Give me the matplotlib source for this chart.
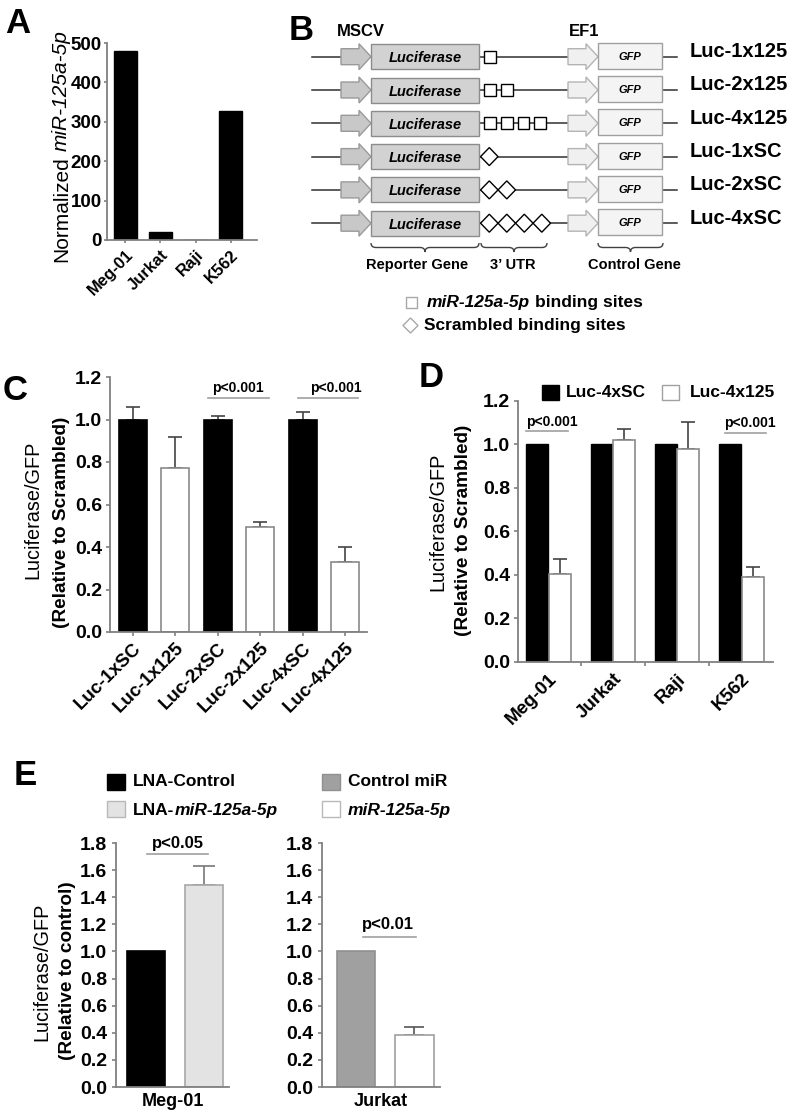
import numpy as np
import matplotlib
matplotlib.use('Agg')
import matplotlib.pyplot as plt
from matplotlib.patches import Rectangle, Polygon, PathPatch
from matplotlib.path import Path

plt.rcParams['font.family'] = ['Liberation Sans', 'DejaVu Sans']
plt.rcParams['font.weight'] = 'bold'

# ---------------- data ----------------
# Panel A
cell_lines_a = ['Meg-01', 'Jurkat', 'Raji', 'K562']
mir_levels_a = [480, 21, 1, 327]

# Panel B (constructs)
constructs_b = ['Luc-1x125', 'Luc-2x125', 'Luc-4x125', 'Luc-1xSC', 'Luc-2xSC', 'Luc-4xSC']
site_counts_b = [1, 2, 4, 1, 2, 4]
site_types_b = ['miR', 'miR', 'miR', 'SC', 'SC', 'SC']

# Panel C
constructs_c = ['Luc-1xSC', 'Luc-1x125', 'Luc-2xSC', 'Luc-2x125', 'Luc-4xSC', 'Luc-4x125']
ratio_c = [1.0, 0.77, 1.0, 0.493, 1.0, 0.331]
err_c = [0.06, 0.146, 0.018, 0.023, 0.037, 0.069]

# Panel D
cell_lines_d = ['Meg-01', 'Jurkat', 'Raji', 'K562']
sc_d = [1.0, 1.0, 1.0, 1.0]
mir_d = [0.403, 1.018, 0.98, 0.392]
mir_err_d = [0.07, 0.051, 0.12, 0.046]

# Panel E
e_left_series = ['LNA-Control', 'LNA-miR-125a-5p']
e_left_vals = [1.0, 1.49]
e_left_err = [0.0, 0.144]
e_right_series = ['Control miR', 'miR-125a-5p']
e_right_vals = [1.0, 0.38]
e_right_err = [0.0, 0.063]

# ---------------- figure ----------------
W, H = 792, 1117
fig = plt.figure(figsize=(W / 100, H / 100), dpi=100)
fig.patch.set_facecolor('white')

SP = '#808080'
TICK_FS = 14


def px_axes(x0, y0, x1, y1):
    return fig.add_axes([x0 / W, 1 - y1 / H, (x1 - x0) / W, (y1 - y0) / H])


def style(ax, length=3, pad=2.5):
    for s in ['top', 'right']:
        ax.spines[s].set_visible(False)
    for s in ['left', 'bottom']:
        ax.spines[s].set_color(SP)
        ax.spines[s].set_linewidth(1.3)
    ax.tick_params(axis='both', labelcolor='black', labelsize=TICK_FS,
                   length=length, width=1.2, color=SP, pad=pad)
    ax.set_facecolor('none')


def upper_err(ax, x, y, e, color='#444444', capsize=5):
    ax.errorbar(x, y, yerr=[np.zeros(len(e)), e], fmt='none', ecolor=color,
                elinewidth=1.2, capsize=capsize, capthick=1.2, zorder=1)


# ---------------- Panel A ----------------
axA = px_axes(107, 43, 257, 240)
xa = np.arange(len(cell_lines_a))
axA.bar(xa, mir_levels_a, width=0.65, color='black', edgecolor='black', zorder=2)
axA.set_ylim(0, 500)
axA.set_yticks(range(0, 501, 100))
axA.set_xlim(-0.52, 3.75)
axA.set_xticks(xa)
axA.set_xticklabels(cell_lines_a, rotation=45, ha='right', rotation_mode='anchor', fontsize=12)
style(axA, length=2.5, pad=1.2)
axA.tick_params(axis='y', labelsize=13.5)
axA.tick_params(axis='x', labelsize=12, pad=2.5)

# ---------------- Panel C ----------------
axC = px_axes(110, 377, 367, 632)
xc = np.arange(len(constructs_c))
fill_c = ['black' if 'SC' in c else 'white' for c in constructs_c]
edge_c = ['black' if 'SC' in c else '#8a8a8a' for c in constructs_c]
axC.bar(xc, ratio_c, width=0.66, color=fill_c, edgecolor=edge_c, linewidth=1.2, zorder=2)
upper_err(axC, xc, ratio_c, err_c, capsize=5)
axC.set_ylim(0, 1.2)
axC.set_yticks(np.arange(0, 1.21, 0.2))
axC.set_yticklabels([f'{v:.1f}' for v in np.arange(0, 1.21, 0.2)])
axC.set_xlim(-0.54, 5.52)
axC.set_xticks(xc)
axC.set_xticklabels(constructs_c, rotation=45, ha='right', rotation_mode='anchor')
style(axC)
axC.tick_params(axis='x', labelsize=13.5)
for (a, b, tx) in [(1.77, 3.2, 2.48), (3.89, 5.31, 4.79)]:
    axC.plot([a, b], [1.10, 1.10], color='#a0a0a0', lw=1.2, clip_on=False)
    axC.text(tx, 1.113, 'p<0.001', ha='center', va='bottom', fontsize=10, fontweight='bold')

# ---------------- Panel D ----------------
axD = px_axes(518, 400.7, 773, 662)
xd = np.arange(len(cell_lines_d))
axD.bar(xd - 0.175, sc_d, width=0.34, color='black', edgecolor='black', zorder=2)
axD.bar(xd + 0.175, mir_d, width=0.34, color='white', edgecolor='#8a8a8a', linewidth=1.2, zorder=2)
upper_err(axD, xd + 0.175, mir_d, mir_err_d, capsize=5)
axD.set_ylim(0, 1.2)
axD.set_yticks(np.arange(0, 1.21, 0.2))
axD.set_yticklabels([f'{v:.1f}' for v in np.arange(0, 1.21, 0.2)])
axD.set_xlim(-0.474, 3.49)
axD.set_xticks(xd[:-1] + 0.5)
axD.set_xticklabels([])
axD.set_xticks(xd, minor=True)
axD.set_xticklabels(cell_lines_d, minor=True, rotation=45, ha='right', rotation_mode='anchor')
style(axD)
axD.tick_params(axis='x', which='minor', length=0, labelsize=13.5, pad=6)
axD.plot([-0.35, 0.30], [1.061, 1.061], color='#a0a0a0', lw=1.2, clip_on=False)
axD.text(0.047, 1.072, 'p<0.001', ha='center', va='bottom', fontsize=10, fontweight='bold')
axD.plot([2.74, 3.38], [1.053, 1.053], color='#a0a0a0', lw=1.2, clip_on=False)
axD.text(3.13, 1.064, 'p<0.001', ha='center', va='bottom', fontsize=10, fontweight='bold')

# ---------------- Panel E ----------------
axE1 = px_axes(116, 843, 229, 1087)
xe = np.arange(2)
axE1.bar(xe, e_left_vals, width=0.66, color=['black', '#e3e3e3'],
         edgecolor=['black', '#a8a8a8'], linewidth=1.2, zorder=2)
upper_err(axE1, xe[1:], e_left_vals[1:], e_left_err[1:], color='#777777', capsize=8)
axE1.set_ylim(0, 1.8)
axE1.set_xlim(-0.52, 1.43)
axE1.set_yticks(np.arange(0, 1.81, 0.2))
axE1.set_yticklabels([f'{v:.1f}' for v in np.arange(0, 1.81, 0.2)])
axE1.set_xticks([])
axE1.set_xlabel('Meg-01', fontsize=13, fontweight='bold', labelpad=4)
style(axE1, length=3, pad=3.5)
axE1.plot([0.02, 1.07], [1.72, 1.72], color='#a0a0a0', lw=1.2, clip_on=False)
axE1.text(0.55, 1.743, 'p<0.05', ha='center', va='bottom', fontsize=12, fontweight='bold')

axE2 = px_axes(322, 843, 440, 1087)
axE2.bar(xe, e_right_vals, width=0.66, color=['#a0a0a0', 'white'],
         edgecolor=['#909090', '#a0a0a0'], linewidth=1.2, zorder=2)
upper_err(axE2, xe[1:], e_right_vals[1:], e_right_err[1:], color='#555555', capsize=7)
axE2.set_ylim(0, 1.8)
axE2.set_xlim(-0.59, 1.44)
axE2.set_yticks(np.arange(0, 1.81, 0.2))
axE2.set_yticklabels([f'{v:.1f}' for v in np.arange(0, 1.81, 0.2)])
axE2.set_xticks([])
axE2.set_xlabel('Jurkat', fontsize=13, fontweight='bold', labelpad=4)
style(axE2, length=3, pad=3.5)
axE2.plot([0.12, 1.03], [1.11, 1.11], color='#a0a0a0', lw=1.2, clip_on=False)
axE2.text(0.55, 1.143, 'p<0.01', ha='center', va='bottom', fontsize=12, fontweight='bold')

# ---------------- overlay (pixel coordinates) ----------------
ov = fig.add_axes([0, 0, 1, 1], zorder=10)
ov.set_xlim(0, W)
ov.set_ylim(H, 0)
ov.axis('off')
ov.patch.set_visible(False)

# panel letters
for lab, x, y in [('A', 5, 33), ('B', 289, 40), ('C', 3, 400), ('D', 419, 387), ('E', 14, 785)]:
    ov.text(x, y, lab, fontsize=25, fontweight='bold', ha='left', va='baseline')


def vrich(x, y, parts, fs, weight='normal', gaps=None):
    """Vertical (90 deg) text with mixed styles; x = baseline, y = start (bottom)."""
    prev = None
    for i, (s, st) in enumerate(parts):
        kw = dict(rotation=90, rotation_mode='anchor', ha='left', va='baseline',
                  fontsize=fs, fontweight=weight, fontstyle=st, annotation_clip=False)
        g = 0 if gaps is None else gaps[i]
        if prev is None:
            prev = ov.annotate(s, xy=(x, y), xycoords='data', **kw)
        else:
            prev = ov.annotate(s, xy=(x, 1), xycoords=(ov.transData, prev),
                               xytext=(0, g), textcoords='offset points', **kw)
    return prev


def hrich(x, y, parts, fs, gaps=None):
    prev = None
    for i, (s, st) in enumerate(parts):
        kw = dict(ha='left', va='baseline', fontsize=fs, fontweight='bold',
                  fontstyle=st, annotation_clip=False)
        g = 0 if gaps is None else gaps[i]
        if prev is None:
            prev = ov.annotate(s, xy=(x, y), xycoords='data', **kw)
        else:
            prev = ov.annotate(s, xy=(1, y), xycoords=(prev, ov.transData),
                               xytext=(g, 0), textcoords='offset points', **kw)
    return prev


# Panel A ylabel
vrich(67, 262, [('Normalized', 'normal'), ('miR-125a-5p', 'italic')], 15,
      weight='normal', gaps=[0, 4])

# Y labels C, D, E
def ylab2(x1, y1, x2, y2, l1, l2):
    ov.text(x1, y1, l1, rotation=90, ha='center', va='center', fontsize=14.3, fontweight='normal')
    ov.text(x2, y2, l2, rotation=90, ha='center', va='center', fontsize=13.7, fontweight='bold')

ylab2(33, 510, 62, 522, 'Luciferase/GFP', '(Relative to Scrambled)')
ylab2(438, 522, 463, 530, 'Luciferase/GFP', '(Relative to Scrambled)')
ylab2(42, 972, 67, 971, 'Luciferase/GFP', '(Relative to control)')

# Panel D legend
ov.add_patch(Rectangle((542, 385), 17, 15, fc='black', ec='black', lw=1))
ov.text(566, 392.5, 'Luc-4xSC', fontsize=12.5, fontweight='bold', va='center', ha='left')
ov.add_patch(Rectangle((662, 385), 17, 15, fc='white', ec='#a0a0a0', lw=1))
ov.text(690, 392.5, 'Luc-4x125', fontsize=12.5, fontweight='bold', va='center', ha='left')

# Panel E legend
ov.add_patch(Rectangle((107, 774), 18, 16, fc='black', ec='black', lw=1))
ov.text(133, 782, e_left_series[0], fontsize=12.5, fontweight='bold', va='center', ha='left')
ov.add_patch(Rectangle((107, 801), 18, 16, fc='#e3e3e3', ec='#b8b8b8', lw=1))
hrich(133, 815, [('LNA-', 'normal'), ('miR-125a-5p', 'italic')], 12.5)
ov.add_patch(Rectangle((322, 774), 18, 16, fc='#a0a0a0', ec='#909090', lw=1))
ov.text(348, 782, e_right_series[0], fontsize=12.5, fontweight='bold', va='center', ha='left')
ov.add_patch(Rectangle((322, 801), 18, 16, fc='white', ec='#b8b8b8', lw=1))
hrich(348, 815, [(e_right_series[1], 'italic')], 12.5)

# ---------------- Panel B diagram ----------------
def arrow(x0, xb, xt, y, fc, ec):
    pts = [(x0, y - 8), (xb, y - 8), (xb, y - 13), (xt, y), (xb, y + 13), (xb, y + 8), (x0, y + 8)]
    ov.add_patch(Polygon(pts, closed=True, fc=fc, ec=ec, lw=1, zorder=3))


ov.text(337, 32, 'MSCV', fontsize=12, fontweight='bold', ha='left', va='center')
ov.text(569, 32, 'EF1', fontsize=12, fontweight='bold', ha='left', va='center')

for i, (lab, n, kind) in enumerate(zip(constructs_b, site_counts_b, site_types_b)):
    y = 56.7 + i * 33.3
    ov.plot([312, 677], [y, y], color='#303030', lw=1.1, zorder=1)
    arrow(341, 359, 371, y, '#c8c8c8', '#9a9a9a')
    ov.add_patch(Rectangle((371, y - 12.5), 108, 25, fc='#d2d2d2', ec='#8c8c8c', lw=1, zorder=3))
    ov.text(425, y + 1.5, 'Luciferase', fontsize=10.5, fontweight='bold', fontstyle='italic',
            ha='center', va='center', zorder=4)
    if kind == 'miR':
        for k in range(n):
            ov.add_patch(Rectangle((484.3 + k * 16.7, y - 6), 11.7, 12, fc='white', ec='black',
                                   lw=1, zorder=3))
    else:
        for k in range(n):
            cx = 489.3 + k * 17.5
            ov.add_patch(Polygon([(cx - 8.75, y), (cx, y - 9), (cx + 8.75, y), (cx, y + 9)],
                                 closed=True, fc='white', ec='black', lw=1, zorder=3))
    arrow(568, 586, 598, y, '#f0f0f0', '#b4b4b4')
    ov.add_patch(Rectangle((598, y - 14), 64, 26, fc='#f4f4f4', ec='#a0a0a0', lw=1, zorder=3))
    ov.text(630, y + 0, 'GFP', fontsize=8, fontweight='bold', fontstyle='italic',
            ha='center', va='center', zorder=4)
    ov.text(690, y - 5, lab, fontsize=14.5, fontweight='bold', ha='left', va='center')


def brace(x0, x1, y, h=9, r=5):
    xm = (x0 + x1) / 2
    ym = y + h / 2
    verts = [(x0, y), (x0, ym), (x0 + r, ym),
             (xm - r, ym),
             (xm, ym), (xm, y + h),
             (xm, ym), (xm + r, ym),
             (x1 - r, ym),
             (x1, ym), (x1, y)]
    codes = [Path.MOVETO, Path.CURVE3, Path.CURVE3,
             Path.LINETO,
             Path.CURVE3, Path.CURVE3,
             Path.CURVE3, Path.CURVE3,
             Path.LINETO,
             Path.CURVE3, Path.CURVE3]
    ov.add_patch(PathPatch(Path(verts, codes), fc='none', ec='#404040', lw=1))


brace(371, 479, 243)
brace(481, 547, 243)
brace(598, 663, 243)
ov.text(417, 265, 'Reporter Gene', fontsize=10.5, fontweight='bold', ha='center', va='center')
ov.text(513, 265, '3\u2019 UTR', fontsize=10.5, fontweight='bold', ha='center', va='center')
ov.text(634, 265, 'Control Gene', fontsize=10.5, fontweight='bold', ha='center', va='center')

# B legend
ov.add_patch(Rectangle((406, 297), 11, 11, fc='white', ec='#a8a8a8', lw=1))
hrich(427, 307, [('miR-125a-5p', 'italic'), ('binding sites', 'normal')], 12.5, gaps=[0, 3.5])
ov.add_patch(Polygon([(403, 325.5), (410.5, 318), (418, 325.5), (410.5, 333)], closed=True,
                     fc='white', ec='#a8a8a8', lw=1))
ov.text(424, 325.5, 'Scrambled binding sites', fontsize=12.5, fontweight='bold', ha='left', va='center')

fig.savefig('out.png', dpi=100, facecolor='white')
